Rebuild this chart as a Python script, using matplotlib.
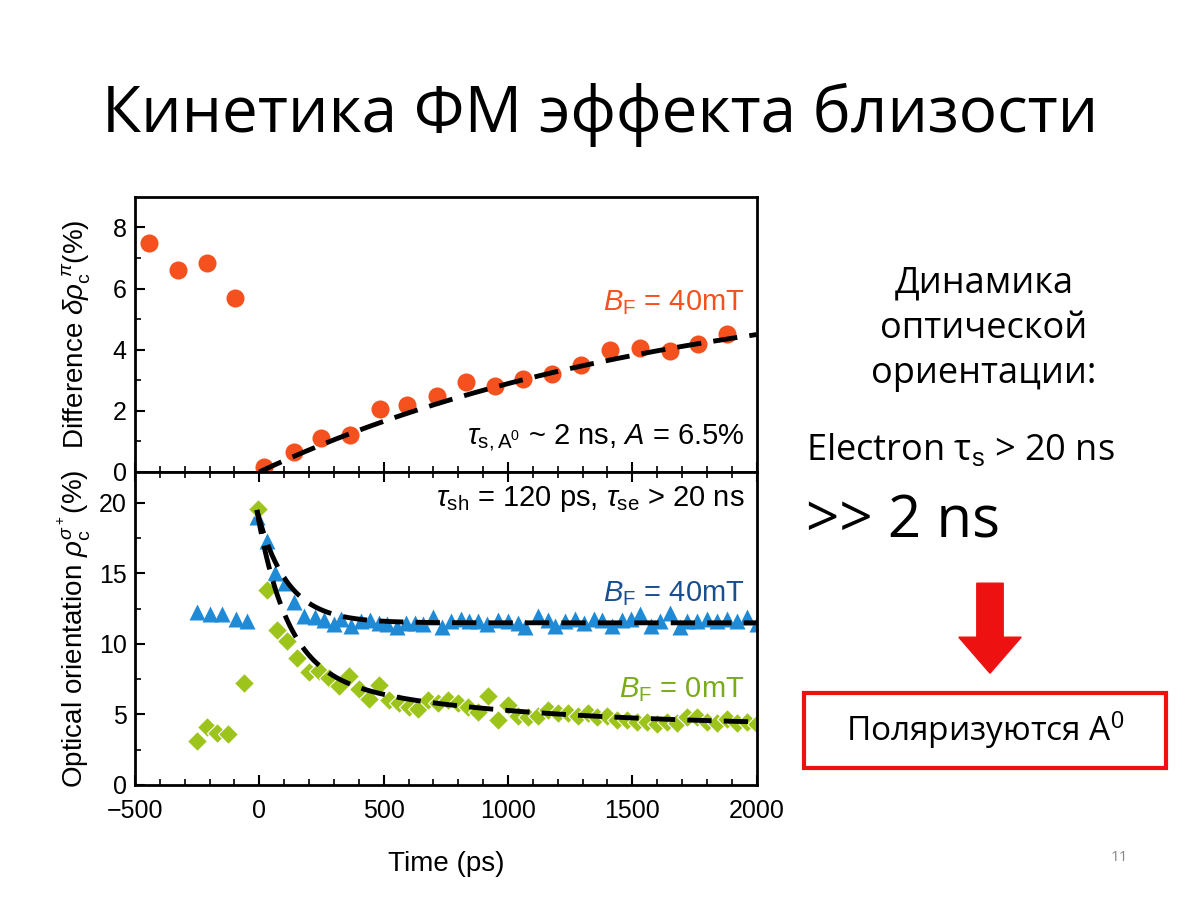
import numpy as np
import matplotlib
matplotlib.use("Agg")
import matplotlib.pyplot as plt
from matplotlib.patches import FancyArrow, Rectangle

# ---- data ----
top_t = [-445, -329, -209, -96, 20, 140, 250, 365, 485, 593, 713, 830, 946, 1062, 1178, 1295, 1411, 1531, 1651, 1764, 1880]
top_v = [7.5, 6.6, 6.85, 5.7, 0.15, 0.65, 1.1, 1.2, 2.05, 2.2, 2.5, 2.95, 2.8, 3.05, 3.2, 3.5, 4.0, 4.05, 3.95, 4.2, 4.5]

blue_t = [-250, -200, -150, -95, -50, -10, 30, 65, 105, 140, 180, 225, 260, 300, 330, 370, 410, 445, 480, 515, 555, 590, 625, 660, 700, 735, 770, 810, 845, 880, 915, 960, 1000, 1040, 1070, 1120, 1160, 1190, 1230, 1270, 1305, 1345, 1380, 1420, 1460, 1495, 1530, 1575, 1610, 1650, 1690, 1720, 1760, 1800, 1840, 1880, 1920, 1960, 2000]
blue_v = [12.3, 12.1, 12.1, 11.8, 11.6, 19.0, 17.3, 15.0, 14.3, 13.0, 12.0, 11.9, 11.7, 11.4, 11.8, 11.3, 11.6, 11.7, 11.5, 11.4, 11.2, 11.5, 11.5, 11.4, 11.9, 11.2, 11.6, 11.8, 11.6, 11.6, 11.4, 11.7, 11.6, 11.5, 11.2, 12.0, 11.7, 11.3, 11.6, 11.8, 11.5, 11.8, 11.7, 11.3, 11.7, 11.8, 12.1, 11.3, 11.6, 12.2, 11.2, 11.6, 11.6, 11.8, 11.6, 11.8, 11.6, 11.9, 11.4]

green_t = [-250, -210, -170, -125, -60, -5, 30, 70, 110, 150, 200, 240, 280, 320, 360, 400, 440, 480, 520, 560, 600, 640, 680, 720, 760, 800, 840, 880, 920, 960, 1000, 1040, 1080, 1120, 1160, 1200, 1240, 1280, 1320, 1360, 1400, 1440, 1480, 1520, 1560, 1600, 1640, 1680, 1720, 1760, 1800, 1840, 1880, 1920, 1960, 2000]
green_v = [3.1, 4.1, 3.7, 3.6, 7.2, 19.6, 13.8, 11.0, 10.2, 9.0, 8.0, 8.1, 7.6, 7.0, 7.7, 6.8, 6.1, 7.1, 6.0, 5.8, 5.5, 5.4, 6.0, 5.8, 6.0, 5.8, 5.5, 5.2, 6.3, 4.6, 5.7, 4.9, 4.8, 4.9, 5.3, 5.1, 5.1, 4.9, 5.1, 4.8, 4.9, 4.6, 4.6, 4.5, 4.5, 4.3, 4.5, 4.4, 4.8, 4.8, 4.5, 4.4, 4.7, 4.4, 4.5, 4.3]

orange = "#f4511e"
blue = "#1f8ad6"
green = "#9dc41a"

plt.rcParams['font.family'] = ['Liberation Sans', 'DejaVu Sans']
plt.rcParams['mathtext.fontset'] = 'custom'
plt.rcParams['mathtext.rm'] = 'Liberation Sans'
plt.rcParams['mathtext.it'] = 'Liberation Sans:italic'
plt.rcParams['mathtext.bf'] = 'Liberation Sans:bold'
fig = plt.figure(figsize=(12, 9), dpi=100)

ax1 = fig.add_axes([0.1125, 0.4756, 0.518, 0.3056])
ax2 = fig.add_axes([0.1125, 0.1278, 0.518, 0.3478], sharex=ax1)

ax1.plot(top_t, top_v, 'o', color=orange, ms=13, mec='none', zorder=2)
tf = np.linspace(0, 2000, 300)
ax1.plot(tf, 6.5 * (1 - np.exp(-tf / 1700)), '--', color='black', lw=3.5, dashes=(5, 2.5), zorder=3)
ax1.set_ylim(0, 9)
ax1.set_yticks([0, 2, 4, 6, 8])
ax1.set_yticks(range(0, 9), minor=True)
ax1.text(1950, 5.3, r"$B_{\rm F}$ = 40mT", color=orange, fontsize=21, ha='right')
ax1.text(1950, 0.9, r"$\tau_{\rm s,A^0}$ ~ 2 ns, $A$ = 6.5%", color='black', fontsize=21, ha='right')
ax1.set_ylabel(r"Difference $\delta\rho_{\rm c}^{\ \pi}$(%)", fontsize=20, labelpad=14)
plt.setp(ax1.get_xticklabels(), visible=False)

ax2.plot(blue_t, blue_v, '^', color=blue, ms=12, mec='none', zorder=2)
ax2.plot(green_t, green_v, 'D', color=green, ms=10, mec='white', mew=0.8, zorder=2)
tb = np.linspace(-10, 2000, 500)
ax2.plot(tb, 11.5 + 8 * np.exp(-(tb + 10) / 120), '--', color='black', lw=3.5, dashes=(5, 2.5), zorder=3)
ax2.plot(tb, 4.15 + 11.35 * np.exp(-(tb + 10) / 120) + 4 * np.exp(-(tb + 10) / 800), '--', color='black', lw=3.5, dashes=(5, 2.5), zorder=3)
ax2.set_ylim(0, 22.2)
ax2.set_yticks([0, 5, 10, 15, 20])
ax2.set_yticks(np.arange(0, 22.1, 2.5), minor=True)
ax2.set_xlim(-500, 2000)
ax2.set_xticks([-500, 0, 500, 1000, 1500, 2000])
ax2.set_xticklabels(['\u2212500', '0', '500', '1000', '1500', '2000'])
ax2.set_xticks(range(-500, 2001, 100), minor=True)
ax2.text(1950, 19.8, r"$\tau_{\rm sh}$ = 120 ps, $\tau_{\rm se}$ > 20 ns", fontsize=21, ha='right')
ax2.text(1950, 13.0, r"$B_{\rm F}$ = 40mT", color='#1a4f8f', fontsize=21, ha='right')
ax2.text(1950, 6.2, r"$B_{\rm F}$ = 0mT", color='#7aab1a', fontsize=21, ha='right')
ax2.set_ylabel(r"Optical orientation $\rho_{\rm c}^{\sigma^+}$(%)", fontsize=20)
ax2.set_xlabel("Time (ps)", fontsize=20, labelpad=20)

for ax in (ax1, ax2):
    ax.tick_params(which='both', direction='in', right=False, labelsize=18)
    ax.tick_params(which='major', length=7, width=1.5, pad=6)
    ax.tick_params(which='minor', length=4, width=1.2)
    for s in ax.spines.values():
        s.set_linewidth(2)
ax1.tick_params(which='both', top=False)
ax2.tick_params(which='both', top=True)
ax2.tick_params(axis='x', which='major', pad=10)
fig.align_ylabels([ax1, ax2])

ff = ['Open Sans', 'DejaVu Sans']
fig.text(0.5, 0.872, "Кинетика ФМ эффекта близости", fontsize=46, ha='center', va='center', family=ff)
fig.text(0.82, 0.635, "Динамика\nоптической\nориентации:", fontsize=26, ha='center', va='center', family=ff, linespacing=1.35)
fig.text(0.672, 0.5, "Electron τ$_{\\rm s}$ > 20 ns", fontsize=26, ha='left', va='center', family=ff)
fig.text(0.672, 0.42, ">> 2 ns", fontsize=42, ha='left', va='center', family=ff)
fig.patches.append(FancyArrow(0.825, 0.352, 0, -0.1, width=0.022, head_width=0.052, head_length=0.04,
                              length_includes_head=True, color='#ee1111', transform=fig.transFigure))
fig.patches.append(Rectangle((0.67, 0.147), 0.302, 0.083, fill=False, edgecolor='#ee1111', lw=3,
                             transform=fig.transFigure))
fig.text(0.821, 0.188, "Поляризуются A$^0$", fontsize=24, ha='center', va='center', family=ff)
fig.text(0.933, 0.047, "11", fontsize=11, color='#888888', ha='center', va='center', family=ff)

fig.savefig("out.png", dpi=100)
